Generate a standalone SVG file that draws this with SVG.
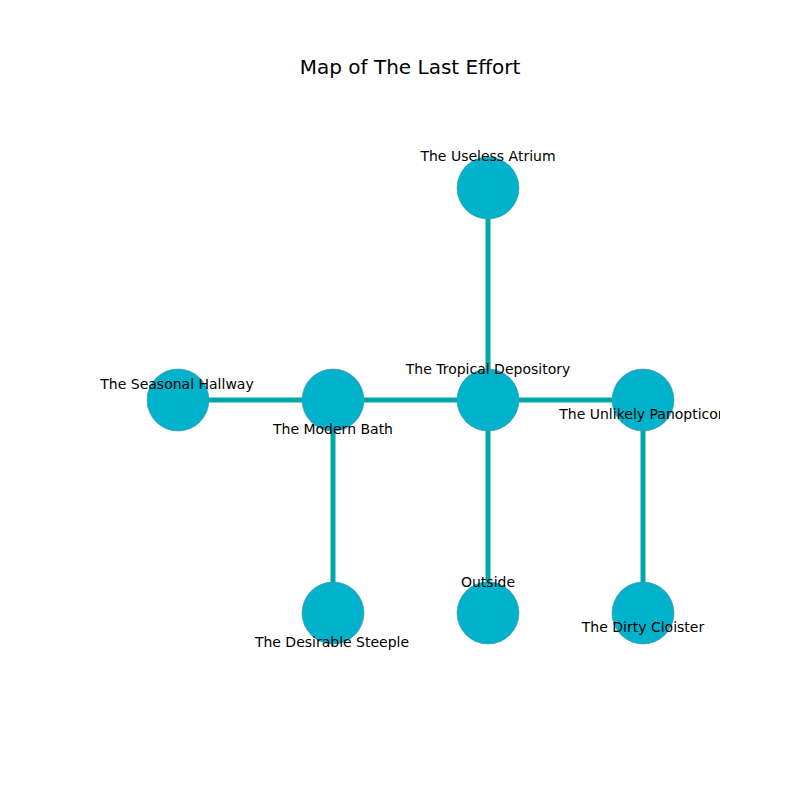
<svg xmlns="http://www.w3.org/2000/svg" width="800" height="800" viewBox="0 0 800 800">
<style>
.edge{stroke:#00a8a8;stroke-width:5;fill:none}
.node{fill:#00b2cc;stroke:#4a8f99;stroke-width:0.6}
.lbl{font-family:"DejaVu Sans",sans-serif;font-size:14px;fill:#000;text-anchor:middle;dominant-baseline:central}
.title{font-family:"DejaVu Sans",sans-serif;font-size:20px;fill:#000;text-anchor:middle;dominant-baseline:central}
</style>
<defs>
<clipPath id="ax"><rect x="80" y="96" width="640" height="608"/></clipPath>
</defs>
<rect width="800" height="800" fill="#fff"/>
<text class="title" x="410" y="67">Map of The Last Effort</text>
<g id="connectors">
<line class="edge" x1="488" y1="188" x2="488" y2="400"/>
<line class="edge" x1="178" y1="400" x2="333" y2="400"/>
<line class="edge" x1="333" y1="400" x2="488" y2="400"/>
<line class="edge" x1="488" y1="400" x2="643" y2="400"/>
<line class="edge" x1="333" y1="400" x2="333" y2="613"/>
<line class="edge" x1="488" y1="400" x2="488" y2="613"/>
<line class="edge" x1="643" y1="400" x2="643" y2="613"/>
</g>
<g id="n-atrium"><circle class="node" cx="488" cy="188" r="31"/></g>
<g id="n-hallway"><circle class="node" cx="178" cy="400" r="31"/></g>
<g id="n-bath"><circle class="node" cx="333" cy="400" r="31"/></g>
<g id="n-depository"><circle class="node" cx="488" cy="400" r="31"/></g>
<g id="n-panopticon"><circle class="node" cx="643" cy="400" r="31"/></g>
<g id="n-steeple"><circle class="node" cx="333" cy="613" r="31"/></g>
<g id="n-outside"><circle class="node" cx="488" cy="613" r="31"/></g>
<g id="n-cloister"><circle class="node" cx="643" cy="613" r="31"/></g>
<g id="labels" clip-path="url(#ax)">
<text class="lbl" x="488" y="156">The Useless Atrium</text>
<text class="lbl" x="177" y="384">The Seasonal Hallway</text>
<text class="lbl" x="333" y="429">The Modern Bath</text>
<text class="lbl" x="488" y="369">The Tropical Depository</text>
<text class="lbl" x="643" y="414">The Unlikely Panopticon</text>
<text class="lbl" x="332" y="642">The Desirable Steeple</text>
<text class="lbl" x="488" y="582">Outside</text>
<text class="lbl" x="643" y="627">The Dirty Cloister</text>
</g>
</svg>
